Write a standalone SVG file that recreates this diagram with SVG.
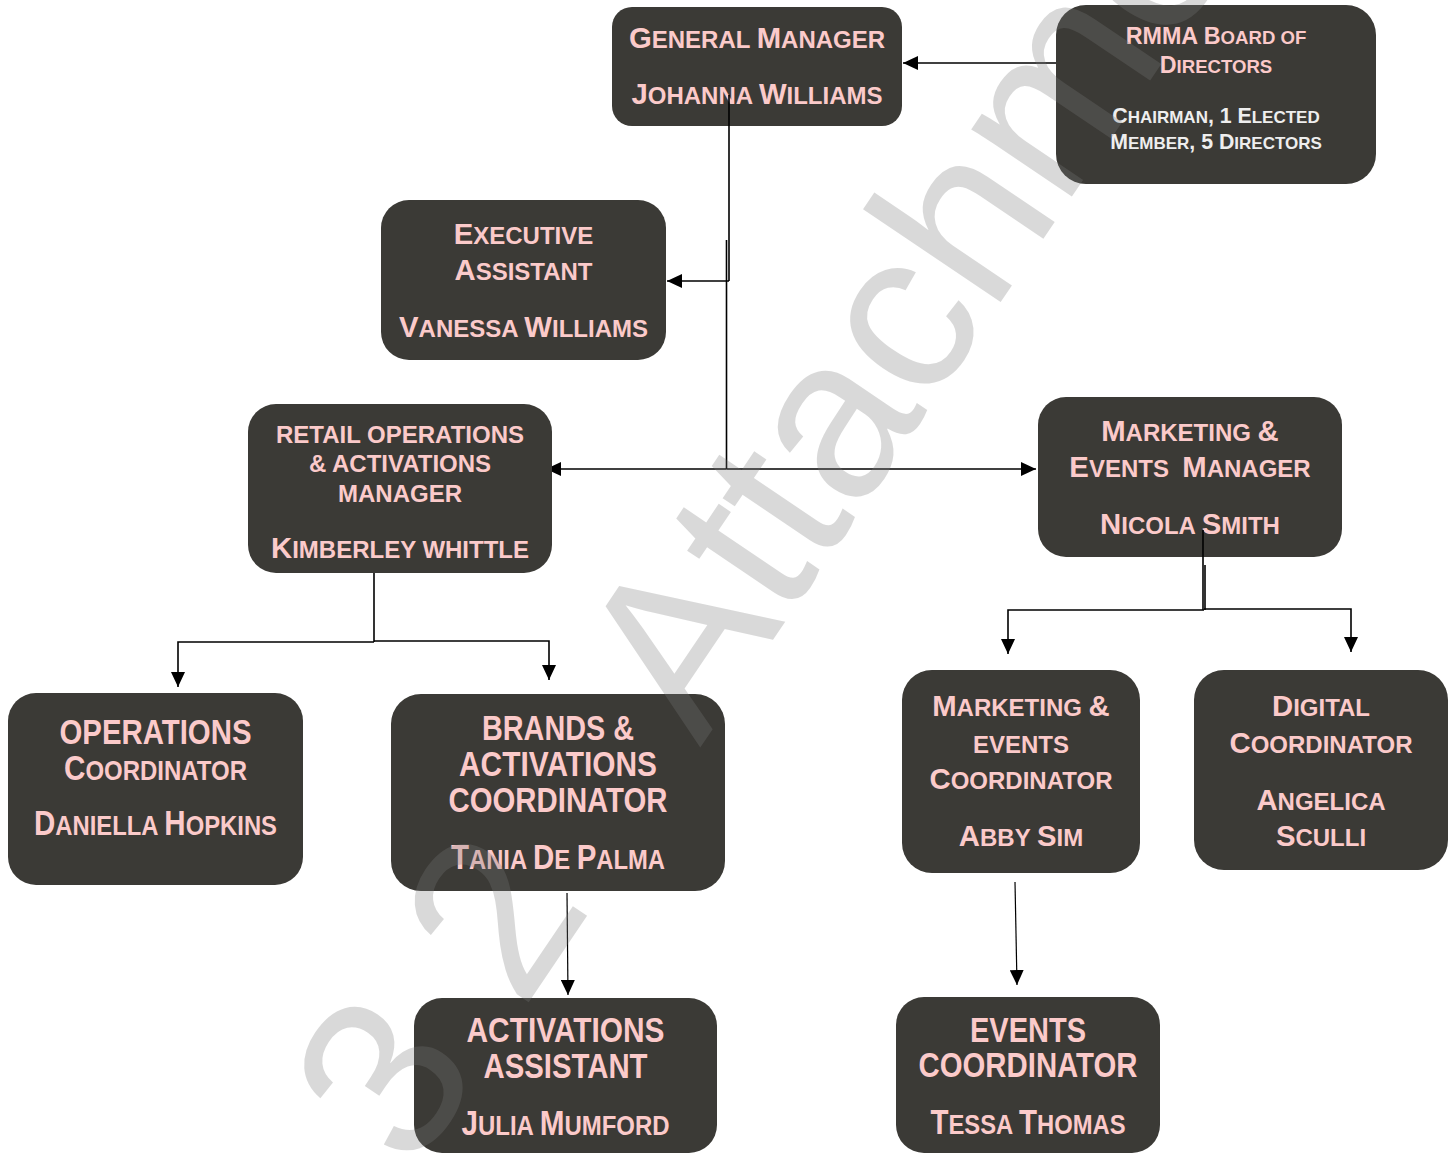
<svg xmlns="http://www.w3.org/2000/svg" width="1456" height="1153" viewBox="0 0 1456 1153">
<style>
.box{fill:#3b3a36}
.t{font-family:"Liberation Sans",Arial,sans-serif;font-weight:bold;fill:#fbcaca;text-anchor:middle}
.wt{fill:#eeeeee}
.ln{fill:none;stroke:#000;stroke-width:1.6}
.ln2{fill:none;stroke:#000;stroke-width:1.2}
.wm{font-family:"Liberation Sans",Arial,sans-serif;font-size:229px;fill:#7a7a7a}
</style>
<defs>
<marker id="ah" viewBox="0 0 15 14" refX="15" refY="7" markerWidth="15" markerHeight="14" markerUnits="userSpaceOnUse" orient="auto"><path d="M0,0 L15,7 L0,14 z" fill="#000"/></marker>
</defs>
<rect width="1456" height="1153" fill="#fff"/>

<g id="connectors">
<path class="ln" d="M1056,63 H903" marker-end="url(#ah)"/>
<path class="ln" d="M729,95 V281"/>
<path class="ln" d="M726.5,240 V469"/>
<path class="ln" d="M729,281 H667" marker-end="url(#ah)"/>
<path class="ln" d="M726.5,469 H546" marker-end="url(#ah)"/>
<path class="ln" d="M726.5,469 H1036" marker-end="url(#ah)"/>
<path class="ln" d="M374,573 V642"/>
<path class="ln" d="M374,642 H178 V687" marker-end="url(#ah)"/>
<path class="ln" d="M374,641 H549 V680" marker-end="url(#ah)"/>
<path class="ln" d="M1203,530 V610"/>
<path class="ln" d="M1205,565 V610"/>
<path class="ln" d="M1204,610 H1008 V654" marker-end="url(#ah)"/>
<path class="ln" d="M1204,609 H1351 V652" marker-end="url(#ah)"/>
<path class="ln2" d="M567,893 L568,995" marker-end="url(#ah)"/>
<path class="ln2" d="M1015,882 L1017,985" marker-end="url(#ah)"/>
</g>

<g id="gm">
<rect class="box" x="612" y="7" width="290" height="119" rx="20"/>
<text class="t" x="757" y="48" font-size="29.3">G<tspan font-size="24">ENERAL </tspan>M<tspan font-size="24">ANAGER</tspan></text>
<text class="t" x="757" y="104" font-size="29.3">J<tspan font-size="24">OHANNA </tspan>W<tspan font-size="24">ILLIAMS</tspan></text>
</g>
<path class="ln" d="M729,95 V126"/>

<g id="board">
<rect class="box" x="1056" y="5" width="320" height="179" rx="30"/>
<text class="t" x="1216" y="44" font-size="23.3">RMMA B<tspan font-size="18.6">OARD OF</tspan></text>
<text class="t" x="1216" y="73" font-size="23.3">D<tspan font-size="18.6">IRECTORS</tspan></text>
<text class="t wt" x="1216" y="123" font-size="21.3">C<tspan font-size="17">HAIRMAN</tspan>, 1 E<tspan font-size="17">LECTED</tspan></text>
<text class="t wt" x="1216" y="149" font-size="21.3">M<tspan font-size="17">EMBER</tspan>, 5 D<tspan font-size="17">IRECTORS</tspan></text>
</g>

<g id="exec">
<rect class="box" x="381" y="200" width="285" height="160" rx="28"/>
<text class="t" x="523.5" y="244" font-size="29.3">E<tspan font-size="24">XECUTIVE</tspan></text>
<text class="t" x="523.5" y="280" font-size="29.3">A<tspan font-size="24">SSISTANT</tspan></text>
<text class="t" x="523.5" y="337" font-size="29.3">V<tspan font-size="24">ANESSA </tspan>W<tspan font-size="24">ILLIAMS</tspan></text>
</g>

<g id="retail">
<rect class="box" x="248" y="404" width="304" height="169" rx="28"/>
<text class="t" x="400" y="443" font-size="24">RETAIL OPERATIONS</text>
<text class="t" x="400" y="472" font-size="24">&amp; ACTIVATIONS</text>
<text class="t" x="400" y="502" font-size="24">MANAGER</text>
<text class="t" x="400" y="558" font-size="29.3">K<tspan font-size="24">IMBERLEY WHITTLE</tspan></text>
</g>

<g id="mktmgr">
<rect class="box" x="1038" y="397" width="304" height="160" rx="28"/>
<text class="t" x="1190" y="441" font-size="29.3">M<tspan font-size="24">ARKETING </tspan>&amp;</text>
<text class="t" x="1190" y="477" font-size="29.3" xml:space="preserve">E<tspan font-size="24">VENTS  </tspan>M<tspan font-size="24">ANAGER</tspan></text>
<text class="t" x="1190" y="534" font-size="29.3">N<tspan font-size="24">ICOLA </tspan>S<tspan font-size="24">MITH</tspan></text>
</g>
<path class="ln" d="M1203,530 V557"/>

<g id="opscoord">
<rect class="box" x="8" y="693" width="295" height="192" rx="28"/>
<text class="t" x="155.5" y="744" font-size="34.7" textLength="192" lengthAdjust="spacingAndGlyphs">OPERATIONS</text>
<text class="t" x="155.5" y="780" font-size="34.7" textLength="183" lengthAdjust="spacingAndGlyphs">C<tspan font-size="28">OORDINATOR</tspan></text>
<text class="t" x="155.5" y="835" font-size="34.7" textLength="243" lengthAdjust="spacingAndGlyphs">D<tspan font-size="28">ANIELLA </tspan>H<tspan font-size="28">OPKINS</tspan></text>
</g>

<g id="brands">
<rect class="box" x="391" y="694" width="334" height="197" rx="30"/>
<text class="t" x="558" y="740" font-size="34.7" textLength="152" lengthAdjust="spacingAndGlyphs">BRANDS &amp;</text>
<text class="t" x="558" y="776" font-size="34.7" textLength="198" lengthAdjust="spacingAndGlyphs">ACTIVATIONS</text>
<text class="t" x="558" y="812" font-size="34.7" textLength="219" lengthAdjust="spacingAndGlyphs">COORDINATOR</text>
<text class="t" x="558" y="869" font-size="34.7" textLength="214" lengthAdjust="spacingAndGlyphs">T<tspan font-size="28">ANIA </tspan>D<tspan font-size="28">E </tspan>P<tspan font-size="28">ALMA</tspan></text>
</g>

<g id="mecoord">
<rect class="box" x="902" y="670" width="238" height="203" rx="30"/>
<text class="t" x="1021" y="716" font-size="29.3">M<tspan font-size="24">ARKETING </tspan>&amp;</text>
<text class="t" x="1021" y="753" font-size="24">EVENTS</text>
<text class="t" x="1021" y="789" font-size="29.3">C<tspan font-size="24">OORDINATOR</tspan></text>
<text class="t" x="1021" y="846" font-size="29.3">A<tspan font-size="24">BBY </tspan>S<tspan font-size="24">IM</tspan></text>
</g>

<g id="digital">
<rect class="box" x="1194" y="670" width="254" height="200" rx="30"/>
<text class="t" x="1321" y="716" font-size="29.3">D<tspan font-size="24">IGITAL</tspan></text>
<text class="t" x="1321" y="753" font-size="29.3">C<tspan font-size="24">OORDINATOR</tspan></text>
<text class="t" x="1321" y="810" font-size="29.3">A<tspan font-size="24">NGELICA</tspan></text>
<text class="t" x="1321" y="846" font-size="29.3">S<tspan font-size="24">CULLI</tspan></text>
</g>

<g id="actasst">
<rect class="box" x="414" y="998" width="303" height="155" rx="28"/>
<text class="t" x="565.5" y="1042" font-size="34.7" textLength="198" lengthAdjust="spacingAndGlyphs">ACTIVATIONS</text>
<text class="t" x="565.5" y="1078" font-size="34.7" textLength="164" lengthAdjust="spacingAndGlyphs">ASSISTANT</text>
<text class="t" x="565.5" y="1135" font-size="34.7" textLength="208" lengthAdjust="spacingAndGlyphs">J<tspan font-size="28">ULIA </tspan>M<tspan font-size="28">UMFORD</tspan></text>
</g>

<g id="evcoord">
<rect class="box" x="896" y="997" width="264" height="156" rx="28"/>
<text class="t" x="1028" y="1042" font-size="34.7" textLength="116" lengthAdjust="spacingAndGlyphs">EVENTS</text>
<text class="t" x="1028" y="1077" font-size="34.7" textLength="219" lengthAdjust="spacingAndGlyphs">COORDINATOR</text>
<text class="t" x="1028" y="1134" font-size="34.7" textLength="195" lengthAdjust="spacingAndGlyphs">T<tspan font-size="28">ESSA </tspan>T<tspan font-size="28">HOMAS</tspan></text>
</g>

<g id="watermark" opacity="0.28">
<text class="wm" transform="translate(700,748) rotate(-56)"><tspan x="-514">3</tspan><tspan x="-318">2 </tspan><tspan x="0">Attachment</tspan></text>
</g>
</svg>
